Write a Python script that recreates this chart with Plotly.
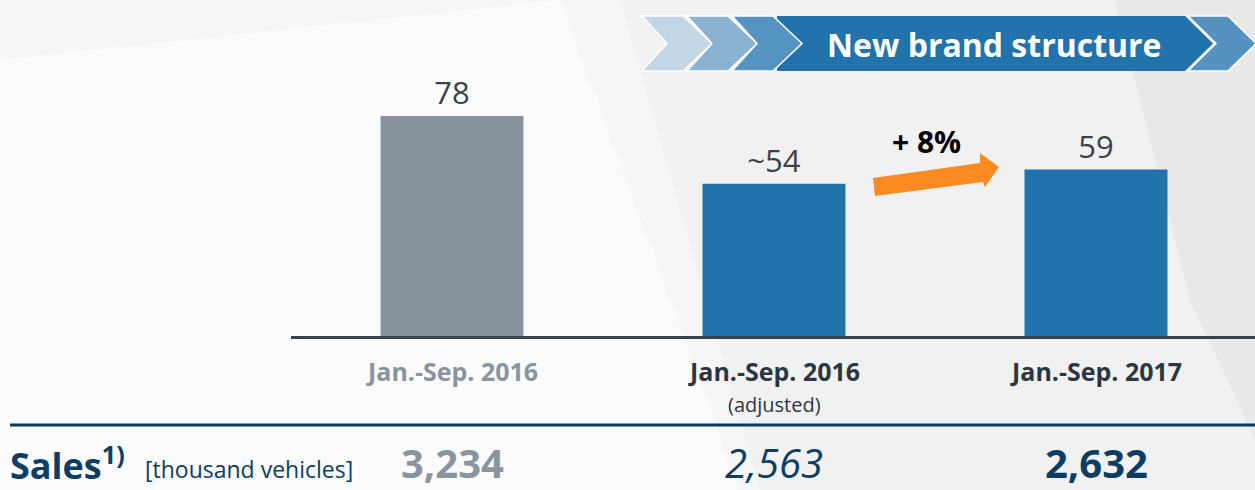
import plotly.graph_objects as go

W, H = 1255, 490

# data
categories = ["Jan.-Sep. 2016", "Jan.-Sep. 2016 adj", "Jan.-Sep. 2017"]
tick_labels = ["Jan.-Sep. 2016", "Jan.-Sep. 2016", "Jan.-Sep. 2017"]
tick_sub = ["", "(adjusted)", ""]
values = [78, 54, 59]
value_labels = ["78", "~54", "59"]
sales = ["3,234", "2,563", "2,632"]
growth_label = "+ 8%"
banner_label = "New brand structure"

GREY = "#8a949f"
BLUE = "#2272ab"
NAVY = "#0e3d63"
DARK = "#2d3640"
FONT = "Open Sans"


# pixel -> paper helpers (margins are zero, paper = full figure)
def px(x):
    return x / W


def py(y):
    return 1 - y / H


def path(points):
    return "M " + " L ".join(f"{px(x):.5f},{py(y):.5f}" for x, y in points) + " Z"


def note(text, x, y, size, color, xref="paper", xanchor="center"):
    return dict(text=text, x=x, y=py(y), xref=xref, yref="paper",
                xanchor=xanchor, yanchor="middle", showarrow=False,
                font=dict(family=FONT, size=size, color=color))


fig = go.Figure()

fig.add_trace(go.Bar(
    x=categories,
    y=values,
    width=0.444,
    marker=dict(color=[GREY, BLUE, BLUE], line=dict(width=0)),
    text=value_labels,
    textposition="outside",
    textfont=dict(family=FONT, size=31, color="#3c4248"),
    cliponaxis=False,
    hoverinfo="skip",
))

shapes = []

# soft background panels
shapes.append(dict(type="path", xref="paper", yref="paper", layer="below",
                   path=path([(620, 0), (1255, 0), (1255, 490), (760, 490)]),
                   fillcolor="#f1f1f1", line=dict(width=0)))
shapes.append(dict(type="path", xref="paper", yref="paper", layer="below",
                   path=path([(1115, 0), (1255, 0), (1255, 440), (1190, 300)]),
                   fillcolor="#e9e9e9", line=dict(width=0)))
shapes.append(dict(type="path", xref="paper", yref="paper", layer="below",
                   path=path([(0, 60), (560, 0), (740, 490), (0, 490)]),
                   fillcolor="#fbfbfb", line=dict(width=0)))

# banner: main box with arrow tip
top, bot, mid = 16, 71, 43.5
shapes.append(dict(type="path", xref="paper", yref="paper",
                   path=path([(777, top), (1185, top), (1213, mid), (1185, bot), (777, bot)]),
                   fillcolor=BLUE, line=dict(width=0)))
# trailing chevron
shapes.append(dict(type="path", xref="paper", yref="paper",
                   path=path([(1188, top), (1228, top), (1256, mid), (1228, bot), (1188, bot), (1216, mid)]),
                   fillcolor="#5592bf", line=dict(color="white", width=1.5)))
# leading chevrons
for x0, col in [(642, "#c2d6e5"), (687, "#8bb2d0"), (732, "#5593c0")]:
    shapes.append(dict(type="path", xref="paper", yref="paper",
                       path=path([(x0, top), (x0 + 41, top), (x0 + 70, mid), (x0 + 41, bot),
                                  (x0, bot), (x0 + 25, mid)]),
                       fillcolor=col, line=dict(color="white", width=1.5)))

# orange growth arrow
shapes.append(dict(type="path", xref="paper", yref="paper",
                   path=path([(873, 178), (980, 163), (980, 153), (999, 167),
                              (985, 187), (983, 182), (875, 196)]),
                   fillcolor="#fa8a21", line=dict(width=0)))

# separator above sales row
shapes.append(dict(type="line", xref="paper", yref="paper",
                   x0=px(10), x1=px(1255), y0=py(425), y1=py(425),
                   line=dict(color="#063a66", width=3)))

annotations = []

# banner text
annotations.append(note(f"<b>{banner_label}</b>", px(994), 45, 32, "white"))

# growth text
annotations.append(note(f"<b>{growth_label}</b>", px(926), 141, 30, "black"))

# category labels
for i, (cat, lab, sub) in enumerate(zip(categories, tick_labels, tick_sub)):
    annotations.append(note(f"<b>{lab}</b>", cat, 371, 25, GREY if i == 0 else DARK, xref="x"))
    if sub:
        annotations.append(note(sub, cat, 404, 20, DARK, xref="x"))

# sales row
annotations.append(note("<b>Sales<sup>1)</sup></b>", px(8), 463, 36, NAVY, xanchor="left"))
annotations.append(note("[thousand vehicles]", px(143), 469, 23, NAVY, xanchor="left"))
sales_fmt = [f"<b>{sales[0]}</b>", f"<i>{sales[1]}</i>", f"<b>{sales[2]}</b>"]
sales_col = [GREY, NAVY, NAVY]
for cat, s, c in zip(categories, sales_fmt, sales_col):
    annotations.append(note(s, cat, 462, 40, c, xref="x"))

fig.update_layout(
    width=W,
    height=H,
    margin=dict(l=0, r=0, t=0, b=0),
    paper_bgcolor="#f6f6f6",
    plot_bgcolor="rgba(0,0,0,0)",
    showlegend=False,
    shapes=shapes,
    annotations=annotations,
    xaxis=dict(
        domain=[291 / W, 1],
        range=[-0.5, 2.4938],
        showticklabels=False,
        showgrid=False,
        zeroline=False,
        showline=True,
        linecolor="#37434c",
        linewidth=3,
        ticks="",
        fixedrange=True,
    ),
    yaxis=dict(
        domain=[1 - 336 / H, 1],
        range=[0, 119.15],
        visible=False,
        fixedrange=True,
    ),
)

# drop the default page margin so the figure sits at the window's corner
fig.write_html("out.html", config={"displayModeBar": False},
               post_script="document.body.style.margin='0';")
